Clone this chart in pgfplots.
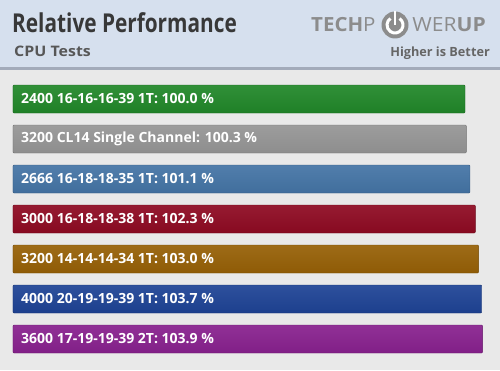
\documentclass[border=0pt]{standalone}
\usepackage{fontspec}
\setmainfont{Open Sans}
\newfontfamily\titlefont[FakeStretch=0.8]{Open Sans}
\usepackage{pgfplots}
\pgfplotsset{compat=1.18}
\definecolor{hdr}{HTML}{D6E0EE}
\definecolor{sep}{HTML}{A3ABBA}
\definecolor{bodybg}{HTML}{E9E9E9}
\definecolor{cA}{HTML}{218729}
\definecolor{cB}{HTML}{959595}
\definecolor{cC}{HTML}{4474A5}
\definecolor{cD}{HTML}{8E0A22}
\definecolor{cE}{HTML}{966006}
\definecolor{cF}{HTML}{1E4395}
\definecolor{cG}{HTML}{88218E}
\definecolor{logo}{HTML}{8C8C8C}
\begin{document}
\begin{tikzpicture}
\begin{scope}[shift={(0,370pt)},yscale=-1,x=1pt,y=1pt]
\fill[bodybg] (0,0) rectangle (500,370);
\fill[hdr] (0,0) rectangle (500,67);
\fill[sep] (0,67) rectangle (500,70);
\node[anchor=base west,inner sep=0,text=black!78] at (12,33) {\titlefont\bfseries\fontsize{26}{26}\selectfont Relative Performance};
\node[anchor=base west,inner sep=0,text=black!66] at (14,57) {\scalebox{1.1}[1]{\bfseries\fontsize{14.5}{15}\selectfont CPU Tests}};
\node[anchor=base east,inner sep=0,text=black!60] at (490,57) {\bfseries\fontsize{12.7}{14}\selectfont Higher is Better};
\node[anchor=base west,inner sep=0,text=logo] at (311,32) {\scalebox{1.05}[1]{\fontsize{19.5}{20}\selectfont\textbf{TECH}P}};
\node[anchor=base east,inner sep=0,text=logo] at (486,32) {\scalebox{1.08}[1]{\fontsize{19.5}{20}\selectfont WER\textbf{UP}}};
\fill[logo] (395,25) circle (13.5);
\draw[white,line width=3pt] (395,25) ++(-55:8) arc[start angle=-55,end angle=235,radius=8];
\draw[logo,line width=5pt] (395,12) -- (395,25);
\draw[white,line width=2.6pt] (395,11.5) -- (395,25);
\end{scope}
\begin{axis}[at={(0,0)},anchor=south west,scale only axis,width=500pt,height=370pt,
  xmin=-2.876,xmax=107.743,ymin=0,ymax=370,y dir=reverse,hide axis,clip=false,
  xbar,bar width=28pt,bar shift=0pt]
\addplot[draw=cA!75!black,top color=cA!93!white,bottom color=cA!95!black,rounded corners=1pt] coordinates {(100.0,99)};
\addplot[draw=cB!75!black,top color=cB!93!white,bottom color=cB!95!black,rounded corners=1pt] coordinates {(100.3,139)};
\addplot[draw=cC!75!black,top color=cC!93!white,bottom color=cC!95!black,rounded corners=1pt] coordinates {(101.1,179)};
\addplot[draw=cD!75!black,top color=cD!93!white,bottom color=cD!95!black,rounded corners=1pt] coordinates {(102.3,219)};
\addplot[draw=cE!75!black,top color=cE!93!white,bottom color=cE!95!black,rounded corners=1pt] coordinates {(103.0,259)};
\addplot[draw=cF!75!black,top color=cF!93!white,bottom color=cF!95!black,rounded corners=1pt] coordinates {(103.7,299)};
\addplot[draw=cG!75!black,top color=cG!93!white,bottom color=cG!95!black,rounded corners=1pt] coordinates {(103.9,339)};
\end{axis}
\begin{scope}[shift={(0,370pt)},yscale=-1,x=1pt,y=1pt]
\foreach \t/\yy in {{2400 16-16-16-39 1T: 100.0 \%}/99,{3200 CL14 Single Channel: 100.3 \%}/139,{2666 16-18-18-35 1T: 101.1 \%}/179,{3000 16-18-18-38 1T: 102.3 \%}/219,{3200 14-14-14-34 1T: 103.0 \%}/259,{4000 20-19-19-39 1T: 103.7 \%}/299,{3600 17-19-19-39 2T: 103.9 \%}/339}
  \node[anchor=west,inner sep=0,text=white] at (21,\yy) {\bfseries\fontsize{14}{15}\selectfont\t};
\end{scope}
\end{tikzpicture}
\end{document}
